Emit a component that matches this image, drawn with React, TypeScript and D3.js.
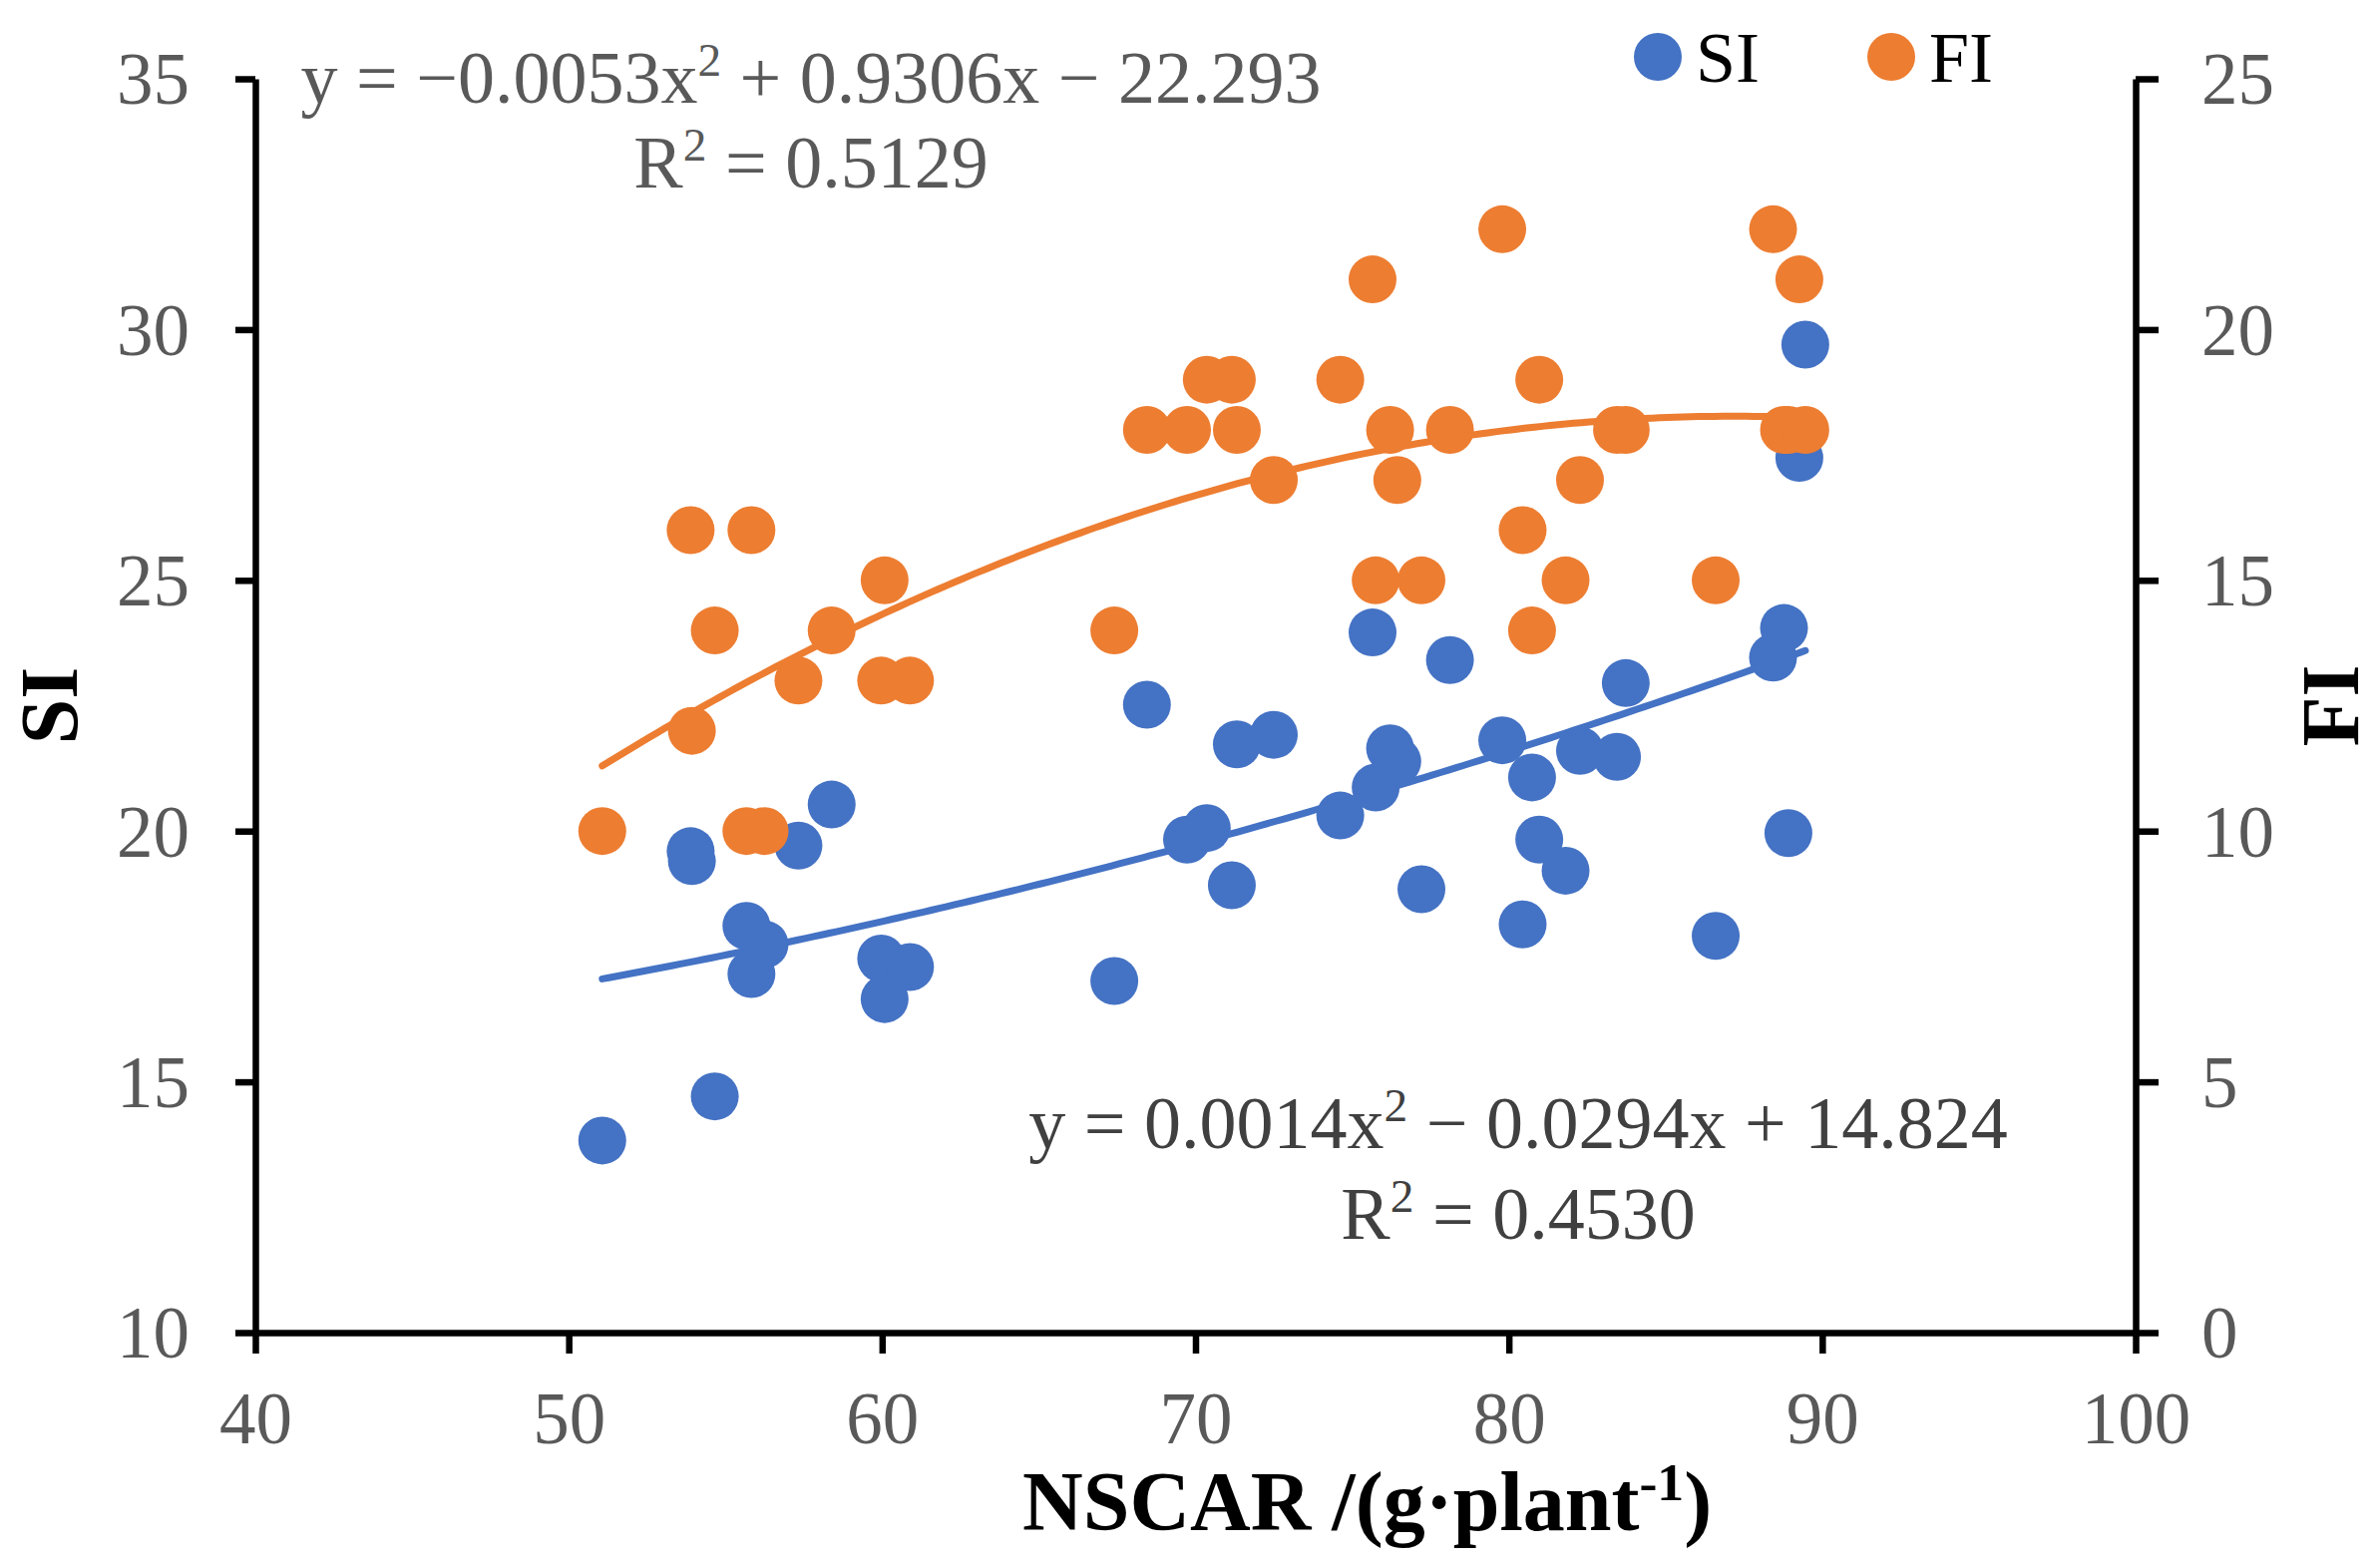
import React, { useRef, useEffect } from 'react';
import * as d3 from 'd3';

// NSCAR (g·plant-1) for each sample, with its SI and FI readings
const NSCAR = [
  51.07, 53.89, 53.93, 54.66, 55.67, 55.83, 56.25, 57.33, 58.39, 59.97,
  60.08, 60.89, 67.41, 68.45, 69.73, 70.36, 71.16, 71.32, 72.5, 74.62,
  75.65, 75.75, 76.21, 76.44, 77.21, 78.12, 79.79, 80.44, 80.74, 80.97,
  81.81, 82.27, 83.45, 83.73, 86.6, 88.43, 88.78, 88.92, 89.27, 89.46,
];
const SI = [
  13.83, 19.6, 19.4, 14.71, 18.11, 17.15, 17.74, 19.71, 20.53, 17.46,
  16.65, 17.29, 17.01, 22.52, 19.83, 20.06, 18.92, 21.73, 21.92, 20.31,
  23.96, 20.87, 21.65, 21.39, 18.84, 23.41, 21.81, 18.14, 21.07, 19.83,
  19.21, 21.6, 21.48, 22.95, 17.91, 23.46, 24.05, 19.96, 27.44, 29.7,
];
const FI = [
  10, 16, 12, 14, 10, 16, 10, 13, 14, 13,
  15, 13, 14, 18, 18, 19, 19, 18, 17, 19,
  21, 15, 18, 17, 15, 18, 22, 16, 14, 19,
  15, 17, 18, 18, 15, 22, 18, 18, 21, 18,
];

const xTicks = [40, 50, 60, 70, 80, 90, 100];
const siTicks = [10, 15, 20, 25, 30, 35];
const fiTicks = [0, 5, 10, 15, 20, 25];

const BLUE = '#4472C4';
const ORANGE = '#ED7D31';
const FONT = '"Liberation Serif", "Times New Roman", serif';

const W = 2386;
const H = 1571;

// least-squares quadratic fit, returns [a, b, c] for ax² + bx + c
function quadFit(xs: number[], ys: number[]): number[] {
  const s = (p: number, q: number) => d3.sum(xs, (v, i) => Math.pow(v, p) * Math.pow(ys[i], q));
  const m = [
    [s(4, 0), s(3, 0), s(2, 0), s(2, 1)],
    [s(3, 0), s(2, 0), s(1, 0), s(1, 1)],
    [s(2, 0), s(1, 0), xs.length, s(0, 1)],
  ];
  for (let i = 0; i < 3; i++) {
    for (let k = i + 1; k < 3; k++) {
      const f = m[k][i] / m[i][i];
      for (let j = i; j < 4; j++) m[k][j] -= f * m[i][j];
    }
  }
  const r = [0, 0, 0];
  for (let i = 2; i >= 0; i--) {
    let v = m[i][3];
    for (let j = i + 1; j < 3; j++) v -= m[i][j] * r[j];
    r[i] = v / m[i][i];
  }
  return r;
}

const App: React.FC = () => {
  const svgRef = useRef<SVGSVGElement | null>(null);

  useEffect(() => {
    const svg = d3.select(svgRef.current);
    svg.selectAll('*').remove();

    const x = d3.scaleLinear().domain([40, 100]).range([256, 2141]);
    const ySI = d3.scaleLinear().domain([10, 35]).range([1336, 79]);
    const yFI = d3.scaleLinear().domain([0, 25]).range([1336, 79]);

    svg.append('rect').attr('width', W).attr('height', H).attr('fill', '#fff');

    const styleAxis = (g: any) => {
      g.select('.domain').attr('stroke', '#000').attr('stroke-width', 6.5);
      g.selectAll('.tick line').attr('stroke', '#000').attr('stroke-width', 6.5);
      g.selectAll('.tick text')
        .attr('fill', '#595959')
        .attr('font-family', FONT)
        .attr('font-size', 73);
    };

    // bottom axis
    const gx = svg.append('g')
      .attr('transform', `translate(0,${ySI(10)})`)
      .call(d3.axisBottom(x).tickValues(xTicks).tickSize(21).tickSizeOuter(0).tickPadding(40));
    styleAxis(gx);
    gx.selectAll('.tick text').attr('y', 111).attr('dy', 0);

    // left axis
    const gl = svg.append('g')
      .attr('transform', `translate(${x(40)},0)`)
      .call(d3.axisLeft(ySI).tickValues(siTicks).tickSize(20).tickSizeOuter(0).tickPadding(46));
    styleAxis(gl);
    gl.selectAll('.tick text').attr('dy', '0.34em');

    // right axis
    const gr = svg.append('g')
      .attr('transform', `translate(${x(100)},0)`)
      .call(d3.axisRight(yFI).tickValues(fiTicks).tickSize(23).tickSizeOuter(0).tickPadding(43));
    styleAxis(gr);
    gr.selectAll('.tick text').attr('dy', '0.34em');

    const idx = d3.range(NSCAR.length);

    // markers
    svg.append('g').selectAll('circle')
      .data(idx).enter().append('circle')
      .attr('cx', (i) => x(NSCAR[i]))
      .attr('cy', (i) => ySI(SI[i]))
      .attr('r', 24)
      .attr('fill', BLUE);

    svg.append('g').selectAll('circle')
      .data(idx).enter().append('circle')
      .attr('cx', (i) => x(NSCAR[i]))
      .attr('cy', (i) => yFI(FI[i]))
      .attr('r', 24)
      .attr('fill', ORANGE);

    // polynomial trendlines (order 2) fitted to the points, over the data range
    const xMin = d3.min(NSCAR) as number;
    const xMax = d3.max(NSCAR) as number;
    const xs = d3.range(xMin, xMax, 0.25).concat([xMax]);
    const poly = (c: number[]) => (v: number) => c[0] * v * v + c[1] * v + c[2];

    const siFit = poly(quadFit(NSCAR, SI));
    const fiFit = poly(quadFit(NSCAR, FI));

    svg.append('path')
      .datum(xs)
      .attr('fill', 'none')
      .attr('stroke', BLUE)
      .attr('stroke-width', 7)
      .attr('stroke-linecap', 'round')
      .attr('d', d3.line<number>().x((v) => x(v)).y((v) => ySI(siFit(v))));

    svg.append('path')
      .datum(xs)
      .attr('fill', 'none')
      .attr('stroke', ORANGE)
      .attr('stroke-width', 7)
      .attr('stroke-linecap', 'round')
      .attr('d', d3.line<number>().x((v) => x(v)).y((v) => yFI(fiFit(v))));

    // text with superscripts: parts are [text, isSup]
    const richText = (
      px: number, py: number, parts: [string, boolean][],
      size: number, fill: string, weight = 'normal', anchor = 'middle'
    ) => {
      const t = svg.append('text')
        .attr('x', px).attr('y', py)
        .attr('text-anchor', anchor)
        .attr('font-family', FONT)
        .attr('font-size', size)
        .attr('font-weight', weight)
        .attr('fill', fill);
      let raised = false;
      parts.forEach(([s, sup]) => {
        const span = t.append('tspan').text(s);
        if (sup && !raised) { span.attr('dy', -size * 0.36).attr('font-size', size * 0.64); raised = true; }
        else if (sup) { span.attr('font-size', size * 0.64); }
        else if (raised) { span.attr('dy', size * 0.36); raised = false; }
      });
      return t;
    };

    // equations
    richText(813, 103, [['y = \u22120.0053x', false], ['2', true], [' + 0.9306x \u2212 22.293', false]], 74, '#595959');
    richText(813, 188, [['R', false], ['2', true], [' = 0.5129', false]], 74, '#595959');
    richText(1522, 1151, [['y = 0.0014x', false], ['2', true], [' \u2212 0.0294x + 14.824', false]], 74, '#404040');
    richText(1522, 1242, [['R', false], ['2', true], [' = 0.4530', false]], 74, '#404040');

    // legend
    const legend = [
      { name: 'SI', color: BLUE, cx: 1662 },
      { name: 'FI', color: ORANGE, cx: 1896 },
    ];
    legend.forEach((l) => {
      svg.append('circle').attr('cx', l.cx).attr('cy', 57).attr('r', 24).attr('fill', l.color);
      svg.append('text')
        .attr('x', l.cx + 38).attr('y', 82)
        .attr('font-family', FONT).attr('font-size', 72)
        .attr('fill', '#000')
        .text(l.name);
    });

    // axis titles
    svg.append('text')
      .attr('transform', `translate(77,${(ySI(10) + ySI(35)) / 2}) rotate(-90)`)
      .attr('text-anchor', 'middle')
      .attr('font-family', FONT).attr('font-size', 82).attr('font-weight', 'bold')
      .text('SI');

    svg.append('text')
      .attr('transform', `translate(2364,${(yFI(0) + yFI(25)) / 2}) rotate(-90)`)
      .attr('text-anchor', 'middle')
      .attr('font-family', FONT).attr('font-size', 82).attr('font-weight', 'bold')
      .text('FI');

    richText(1025, 1534, [['NSCAR /(g\u00B7plant', false], ['-1', true], [')', false]], 84, '#000', 'bold', 'start');
  }, []);

  return (
    <svg
      ref={svgRef}
      width={W}
      height={H}
      style={{ position: 'absolute', left: 0, top: 0, display: 'block' }}
    />
  );
};

export default App;
